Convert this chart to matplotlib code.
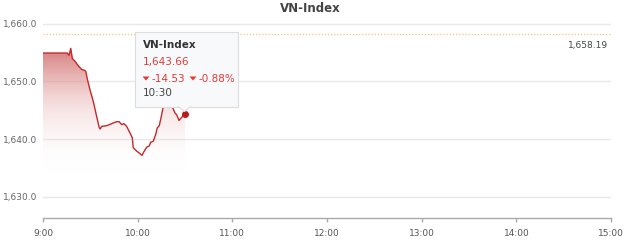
#!/usr/bin/env python3
import numpy as np
import matplotlib
matplotlib.use("Agg")
import matplotlib.pyplot as plt
from matplotlib.patches import FancyBboxPatch, Polygon
from matplotlib.colors import LinearSegmentedColormap

# minutes after 9:00 and index value
minutes = [0, 15.4, 16.5, 17.6, 18.6, 20.3, 22.4, 24.5, 26, 27.1, 28.1, 29.8, 31.9,
           34, 35.7, 36.3, 37.2, 40.4, 42.5, 44.5, 46.7, 48.2, 49.9, 51.3, 53,
           55.1, 56.6, 57.2, 59.4, 61.5, 62.7, 64.2, 65.7, 67.2, 68.3, 69.9, 71.4,
           72.4, 73.7, 75.2, 76.2, 78, 80, 81.9, 83.7, 84.7, 86.2, 87.5, 88.9, 90]
values = [1654.94, 1654.94, 1654.55, 1655.75, 1653.98, 1653.51, 1652.71, 1652.09,
          1651.97, 1651.79, 1650.42, 1648.53, 1646.51, 1643.93, 1641.94, 1641.76,
          1642.21, 1642.33, 1642.56, 1642.80, 1643.02, 1643.02, 1642.51, 1642.68,
          1642.21, 1641.08, 1640.22, 1638.50, 1637.91, 1637.47, 1637.17, 1637.91,
          1638.60, 1638.77, 1639.46, 1639.63, 1640.78, 1641.94, 1642.33, 1644.23,
          1645.65, 1647.3, 1646.9, 1645.65, 1644.51, 1644.23, 1643.24, 1643.66,
          1644.05, 1644.28]
ref_close = 1658.19
y_ticks = [1630, 1640, 1650, 1660]
x_ticks = [0, 60, 120, 180, 240, 300, 360]
x_labels = ["9:00", "10:00", "11:00", "12:00", "13:00", "14:00", "15:00"]

# tooltip contents
tip_title = "VN-Index"
tip_value = 1643.66
tip_change = -14.53
tip_pct = -0.88
tip_time = "10:30"

W, H = 624, 247
fig = plt.figure(figsize=(W / 100, H / 100), dpi=100)
fig.patch.set_facecolor("white")

# axes box in pixels: x 43..611, y 21..218 (from top)
ax = fig.add_axes([43 / W, (H - 218) / H, (611 - 43) / W, (218 - 21) / H])
ax.set_xlim(0, 360)
ax.set_ylim(1626.3, 1660.5)
ax.set_facecolor("white")

for s in ["top", "right", "left"]:
    ax.spines[s].set_visible(False)
ax.spines["bottom"].set_color("#aaaaaa")
ax.spines["bottom"].set_linewidth(1)

ax.set_yticks(y_ticks)
ax.set_yticklabels([f"{v:,.1f}" for v in y_ticks])
ax.set_xticks(x_ticks)
ax.set_xticklabels(x_labels)
ax.tick_params(axis="y", length=0, pad=4, labelsize=6.5, labelcolor="#666666")
ax.tick_params(axis="x", length=3, width=1, color="#aaaaaa", pad=5,
               labelsize=6.5, labelcolor="#555555")
ax.grid(axis="y", color="#e8e8e8", lw=1)
ax.set_axisbelow(True)

# gradient fill under the line
x = np.array(minutes)
y = np.array(values)
cmap = LinearSegmentedColormap.from_list(
    "fade", [(1, 1, 1, 0), (0.93, 0.74, 0.74, 0.4), (0.79, 0.33, 0.33, 0.8)])
grad = np.linspace(0, 1, 256).reshape(-1, 1)
grad = np.clip((grad - 0.1) / 0.9, 0, 1)
img = ax.imshow(grad, cmap=cmap, origin="lower", aspect="auto",
                extent=[0, 360, 1631.5, 1656], zorder=1, interpolation="bilinear")
poly = Polygon(np.column_stack([np.r_[x, x[-1], x[0]],
                                np.r_[y, 1626.3, 1626.3]]),
               closed=True, facecolor="none", edgecolor="none",
               transform=ax.transData)
ax.add_patch(poly)
img.set_clip_path(poly)

ax.plot(x, y, color="#c62828", lw=1, zorder=3)
ax.plot(x[-1], y[-1], "o", ms=4, color="#b71c1c", zorder=4)

# previous close reference
ax.axhline(ref_close, color="#f6c77a", lw=0.9, ls=(0, (1, 1.5)), zorder=2)
fig.text(608 / W, 1 - 45 / H, f"{ref_close:,.2f}", ha="right", va="center",
         fontsize=6.5, color="#444444")

fig.text(310 / W, 1 - 8 / H, "VN-Index", ha="center", va="center",
         fontsize=8.5, fontweight="bold", color="#444444")

# tooltip
tx0, ty0, tx1, ty1 = 134.5, 32.5, 238, 106.5
shadow = FancyBboxPatch((tx0 / W + 0.002, 1 - ty1 / H - 0.006),
                        (tx1 - tx0) / W, (ty1 - ty0) / H,
                        boxstyle="square,pad=0", transform=fig.transFigure,
                        facecolor=(0, 0, 0, 0.08), edgecolor="none", zorder=9)
box = FancyBboxPatch((tx0 / W, 1 - ty1 / H), (tx1 - tx0) / W, (ty1 - ty0) / H,
                     boxstyle="square,pad=0", transform=fig.transFigure,
                     facecolor="#f7f9fb", edgecolor="#dddddd", lw=0.8, zorder=10)
fig.patches.extend([shadow, box])
pointer = Polygon([[178 / W, 1 - 106.3 / H], [184.5 / W, 1 - 111.5 / H],
                   [191 / W, 1 - 106.3 / H]], closed=False,
                  transform=fig.transFigure, facecolor="#f7f9fb",
                  edgecolor="#dddddd", lw=0.8, zorder=10)
fig.patches.append(pointer)

red = "#e53935"
fig.text(142.5 / W, 1 - 45 / H, tip_title, fontsize=7.5, fontweight="bold",
         color="#333333", va="center", zorder=11)
fig.text(142.5 / W, 1 - 62.5 / H, f"{tip_value:,.2f}", fontsize=7.5,
         color=red, va="center", zorder=11)
# small down-caret markers
for cx in (146, 193):
    fig.patches.append(Polygon([[(cx - 3.5) / W, 1 - 76.5 / H],
                                [(cx + 3.5) / W, 1 - 76.5 / H],
                                [cx / W, 1 - 80.5 / H]], closed=True,
                               transform=fig.transFigure, facecolor=red,
                               edgecolor="none", zorder=11))
fig.text(152 / W, 1 - 78.5 / H, f"{tip_change:.2f}", fontsize=7.5, color=red,
         va="center", zorder=11)
fig.text(198.5 / W, 1 - 78.5 / H, f"{tip_pct:.2f}%", fontsize=7.5, color=red,
         va="center", zorder=11)
fig.text(142.5 / W, 1 - 93 / H, tip_time, fontsize=7.5, color="#444444",
         va="center", zorder=11)

fig.savefig("out.png", dpi=100)
